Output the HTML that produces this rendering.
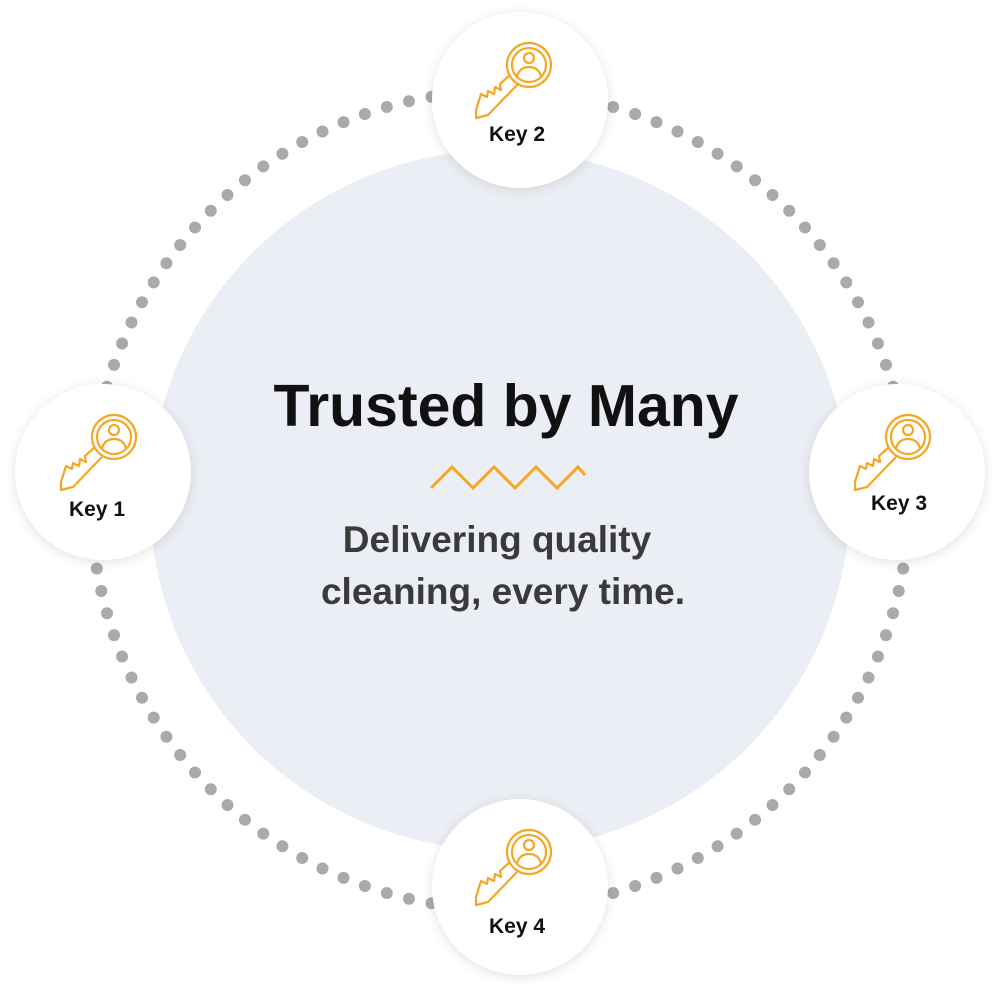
<!DOCTYPE html>
<html><head><meta charset="utf-8"><style>
html,body{margin:0;padding:0;background:#fff;}
svg{display:block}
text{font-family:"Liberation Sans",Arial,sans-serif;font-weight:bold}
</style></head><body>
<svg width="1000" height="1000" viewBox="0 0 1000 1000" xmlns="http://www.w3.org/2000/svg">
<defs>
<filter id="sh" x="-30%" y="-30%" width="160%" height="160%"><feGaussianBlur in="SourceAlpha" stdDeviation="6"/><feOffset dx="0" dy="2"/><feComponentTransfer><feFuncA type="linear" slope="0.12"/></feComponentTransfer><feMerge><feMergeNode/><feMergeNode in="SourceGraphic"/></feMerge></filter>
<g id="key" fill="none" stroke="#f5a623" stroke-width="2.2" stroke-linejoin="round">
<circle cx="9" cy="-35" r="22"/>
<circle cx="9" cy="-35" r="17"/>
<circle cx="9" cy="-42" r="5"/>
<path d="M-3,-24 Q0,-33 9,-33 Q18,-33 21,-24"/>
<path d="M-10,-25 L-20,-16 L-19,-10 L-25,-13 L-26,-6 L-32,-9 L-33,-3 L-39,-6 L-44,10 L-44,18 L-32,15 L-3,-15"/>
</g>
</defs>
<circle cx="500" cy="500" r="350" fill="#eceef5"/>
<g id="dots" fill="#aaaaaa"></g>
<g filter="url(#sh)" fill="#fff">
<circle cx="520" cy="100" r="88"/>
<circle cx="103" cy="472" r="88"/>
<circle cx="897" cy="472" r="88"/>
<circle cx="520" cy="887" r="88"/>
</g>
<use href="#key" x="520" y="100"/>
<use href="#key" x="105" y="472"/>
<use href="#key" x="899" y="472"/>
<use href="#key" x="520" y="887"/>
<g font-size="21" fill="#111" text-anchor="middle">
<text x="517" y="141">Key 2</text>
<text x="97" y="516">Key 1</text>
<text x="899" y="510">Key 3</text>
<text x="517" y="933">Key 4</text>
</g>
<text x="506" y="426" font-size="59" fill="#111" text-anchor="middle" textLength="465" lengthAdjust="spacingAndGlyphs">Trusted by Many</text>
<polyline points="431,488 452,467 473,488 494,467 515,488 536,467 557,488 578,467 585,475" fill="none" stroke="#f5a623" stroke-width="3"/>
<g font-size="37" fill="#3a3a3a" text-anchor="middle">
<text x="497" y="552">Delivering quality</text>
<text x="503" y="604">cleaning, every time.</text>
</g>
</svg>
<script>
var g=document.getElementById('dots'),n=112,s='';
for(var i=0;i<n;i++){var a=i/n*2*Math.PI;var x=500+409*Math.cos(a),y=500+409*Math.sin(a);
s+='<circle cx="'+x.toFixed(1)+'" cy="'+y.toFixed(1)+'" r="6"/>';}
g.innerHTML=s;
</script>
</body></html>
